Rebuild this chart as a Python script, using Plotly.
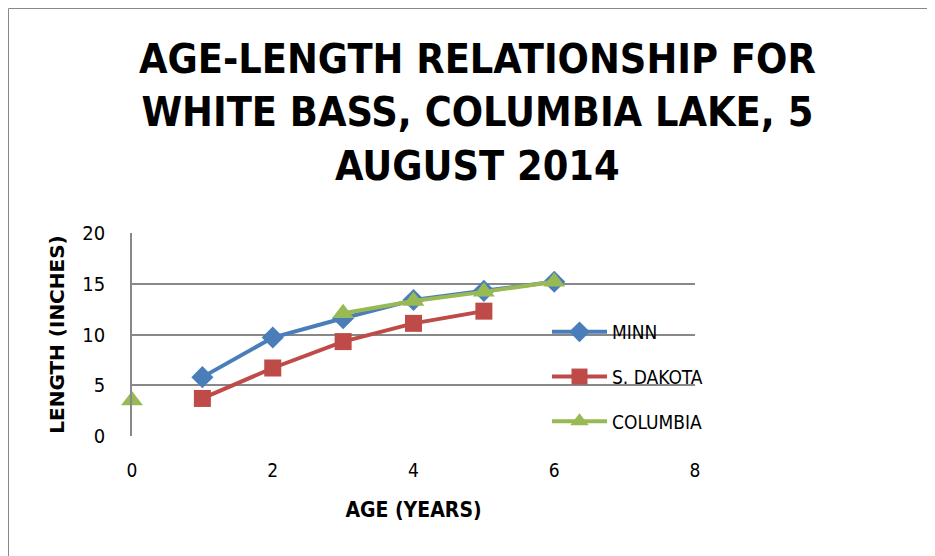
import plotly.graph_objects as go

ages = [0, 1, 2, 3, 4, 5, 6]
minn = [None, 5.8, 9.7, 11.6, 13.4, 14.3, 15.2]
s_dakota = [None, 3.7, 6.7, 9.3, 11.1, 12.3, None]
columbia = [3.5, None, None, 12.1, 13.3, 14.2, 15.2]

x_ticks = [0, 2, 4, 6, 8]
y_ticks = [0, 5, 10, 15, 20]

FONT = "DejaVu Sans Condensed, Liberation Sans Narrow, sans-serif"

fig = go.Figure()
series = [
    ("MINN", minn, "#4A7EBB", "diamond", 17),
    ("S. DAKOTA", s_dakota, "#BE4B48", "square", 17),
    ("COLUMBIA", columbia, "#98B954", "triangle-up", 19),
]
for i, (name, vals, col, sym, sz) in enumerate(series):
    fig.add_trace(go.Scatter(
        x=ages, y=vals, name=name, mode="lines+markers",
        line=dict(color=col, width=4),
        marker=dict(symbol=sym, size=sz, color=col),
        connectgaps=False, cliponaxis=False,
        legendgroup=f"g{i}",
    ))

W, H = 935, 556
OFF = 8  # page body margin
L, R, T, B = 132 - OFF, 695 - OFF, 233 - OFF, 436 - OFF
pw, ph = R - L, B - T

fig.update_layout(
    width=W, height=H,
    margin=dict(l=L, r=W - R, t=T, b=H - B, autoexpand=False),
    paper_bgcolor="white", plot_bgcolor="white",
    font=dict(family=FONT, size=19, color="black"),
    title=dict(
        text="<b>AGE-LENGTH RELATIONSHIP FOR<br>WHITE BASS, COLUMBIA LAKE, 5<br>AUGUST 2014</b>",
        x=0.502, xanchor="center", y=0.91 - 15 / H, yanchor="top",
        font=dict(family=FONT, size=41, color="black"),
    ),
    xaxis=dict(
        range=[0, 8], tickvals=x_ticks, showgrid=False, zeroline=False,
        showline=False, ticks="outside", ticklen=17, tickcolor="rgba(0,0,0,0)",
        tickfont=dict(size=19), automargin=False,
        title=dict(text="<b>AGE (YEARS)</b>", font=dict(size=21), standoff=22),
    ),
    yaxis=dict(
        range=[0, 20], tickvals=y_ticks, showgrid=True, gridcolor="#888888",
        gridwidth=1.5, zeroline=False, showline=True, linecolor="#888888",
        linewidth=1.5, ticks="outside", ticklen=21, tickcolor="rgba(0,0,0,0)",
        tickfont=dict(size=20), automargin=False,
        title=dict(text="<b>LENGTH (INCHES)</b>",
                   font=dict(size=20, family="DejaVu Sans, sans-serif"), standoff=12),
    ),
    legend=dict(
        x=(547 - OFF - L) / pw, xanchor="left", y=(B - (313 - OFF)) / ph, yanchor="top",
        bgcolor="rgba(0,0,0,0)", font=dict(size=19),
        traceorder="grouped", tracegroupgap=17, itemwidth=55,
    ),
    shapes=[dict(
        type="rect", xref="paper", yref="paper",
        x0=(0.5 - L) / pw, x1=(940 - L) / pw, y0=(B - 600) / ph, y1=(B - 0.5) / ph,
        line=dict(color="#888888", width=1), layer="below",
    )],
)

fig.write_html("out.html")
